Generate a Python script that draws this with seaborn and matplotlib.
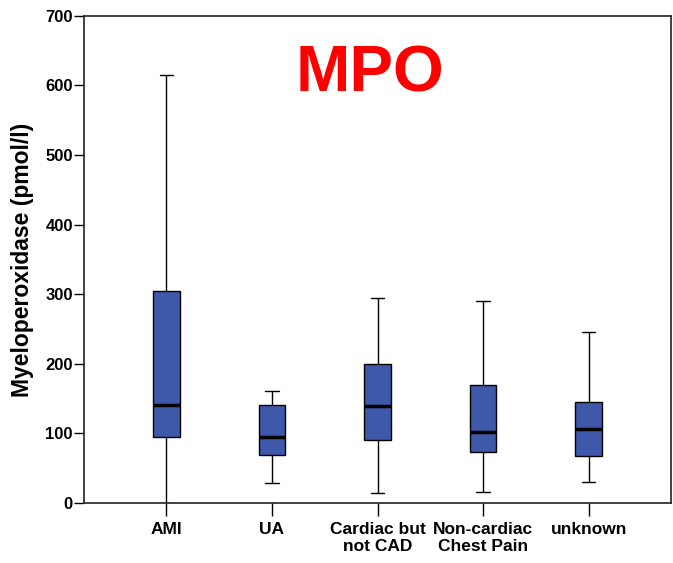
import matplotlib
matplotlib.use("Agg")
import matplotlib.pyplot as plt
import seaborn as sns
import pandas as pd

categories = ["AMI", "UA", "Cardiac but\nnot CAD", "Non-cardiac\nChest Pain", "unknown"]
# five-number summaries: min, Q1, median, Q3, max
mins = [0, 29, 15, 16, 30]
q1s = [95, 69, 91, 73, 67]
medians = [141, 95, 139, 102, 106]
q3s = [305, 141, 199, 169, 145]
maxs = [615, 161, 295, 290, 246]

rows = []
for c, a, b, m, d, e in zip(categories, mins, q1s, medians, q3s, maxs):
    for v in (a, b, m, d, e):
        rows.append({"group": c, "value": v})
df = pd.DataFrame(rows)

sns.set_style("ticks")
plt.rcParams["font.family"] = ["Liberation Sans", "DejaVu Sans"]
plt.rcParams["font.weight"] = "bold"
plt.rcParams["text.color"] = "black"
plt.rcParams["axes.labelcolor"] = "black"
plt.rcParams["xtick.color"] = "black"
plt.rcParams["ytick.color"] = "black"

fig = plt.figure(figsize=(6.73, 5.63), dpi=100)
ax = fig.add_axes([84 / 673, 1 - 503 / 563, 587 / 673, (503 - 15.8) / 563])

sns.boxplot(data=df, x="group", y="value", order=categories, whis=(0, 100),
            width=0.25, color="#3E58AA", saturation=1, linecolor="black",
            linewidth=1.0, ax=ax,
            medianprops={"linewidth": 2.5, "color": "black"},
            boxprops={"edgecolor": "black"})

ax.set_xlim(-0.78, 4.78)
ax.set_ylim(0, 700)
ax.set_yticks(range(0, 701, 100))
ax.set_xlabel("")
ax.set_ylabel("Myeloperoxidase (pmol/l)", fontsize=16.5, fontweight="bold",
              labelpad=8, color="black")
ax.tick_params(axis="y", labelsize=12, length=7, width=1, pad=1,
               direction="out", colors="black")
ax.tick_params(axis="x", labelsize=12.5, length=9, width=1, pad=5,
               direction="out", colors="black")
for lab in ax.get_xticklabels():
    lab.set_fontweight("bold")
    lab.set_linespacing(1.1)
for lab in ax.get_yticklabels():
    lab.set_fontweight("bold")
for s in ax.spines.values():
    s.set_visible(True)
    s.set_color("#222222")
    s.set_linewidth(1.2)

ax.text(0.487, 0.879, "MPO", transform=ax.transAxes, ha="center", va="center",
        color="#FF0000", fontsize=47, fontweight="bold")

fig.savefig("out.png", dpi=100)
